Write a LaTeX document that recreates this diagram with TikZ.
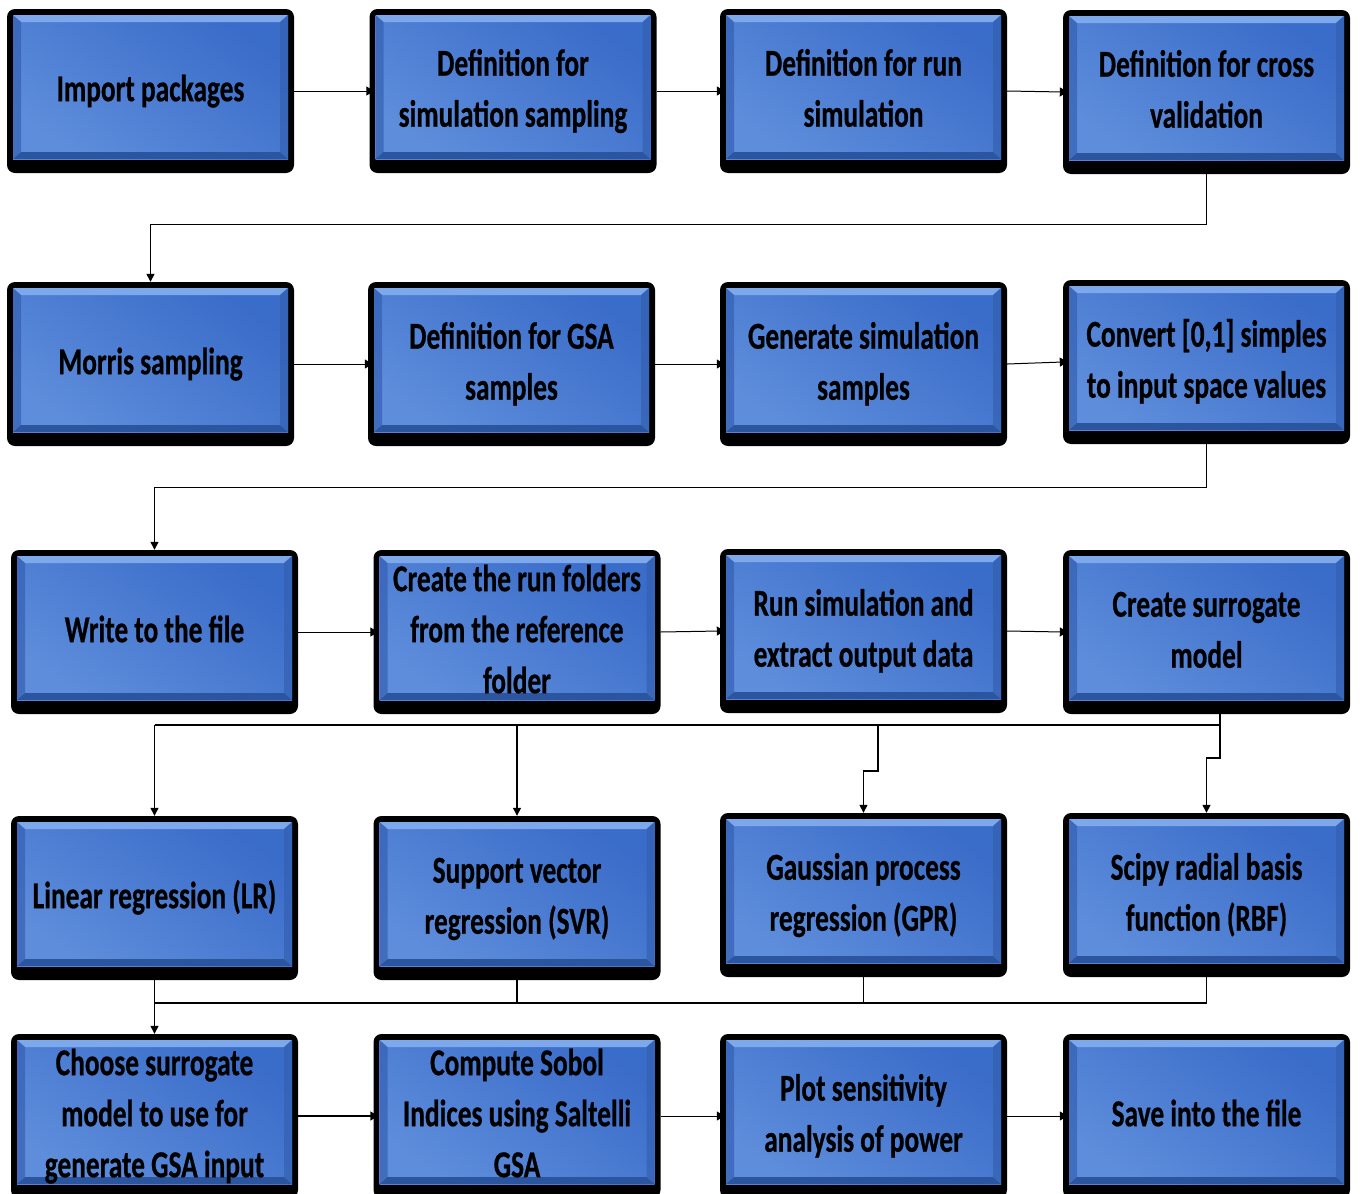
\documentclass[tikz,border=0pt]{standalone}
\usepackage{fontspec}
\newfontfamily\boxfont{Carlito}[FakeStretch=0.72,FakeBold=0.6]
\usetikzlibrary{arrows.meta,calc}
\definecolor{bluelite}{HTML}{5E8DDB}
\definecolor{bluedark}{HTML}{3A6CC9}
\definecolor{bevtop}{HTML}{7EA8EC}
\definecolor{bevbot}{HTML}{2C559F}
\definecolor{bevside}{HTML}{3460B2}
\newcommand\bx[1]{\raisebox{4pt}{\begin{tabular}{@{}c@{}}#1\end{tabular}}}
\tikzset{
  flowbox/.style={
    fill=black, rounded corners=8pt, minimum width=287pt, minimum height=164pt,
    inner sep=0pt, align=center, font=\boxfont\bfseries\fontsize{38}{51}\selectfont,
    path picture={
      \coordinate (SW) at ($(path picture bounding box.south west)+(6pt,14pt)$);
      \coordinate (NE) at ($(path picture bounding box.north east)+(-6pt,-6pt)$);
      \shade[sharp corners, top color=bluedark, bottom color=bluelite, shading angle=-35] (SW) rectangle (NE);
      \fill[sharp corners, bevtop] (SW|-NE) -- (NE) -- ($(NE)+(-8pt,-7pt)$) -- ($(SW|-NE)+(8pt,-7pt)$) -- cycle;
      \fill[sharp corners, bevbot] (SW) -- (SW-|NE) -- ($(SW-|NE)+(-8pt,7pt)$) -- ($(SW)+(8pt,7pt)$) -- cycle;
      \fill[sharp corners, bevside, opacity=0.7] (SW) -- ($(SW)+(8pt,7pt)$) -- ($(SW|-NE)+(8pt,-7pt)$) -- (SW|-NE) -- cycle;
      \fill[sharp corners, bevside, opacity=0.7] (SW-|NE) -- ($(SW-|NE)+(-8pt,7pt)$) -- ($(NE)+(-8pt,-7pt)$) -- (NE) -- cycle;
    }},
  conn/.style={draw=black, line width=1.3pt, -{Triangle[length=8pt,width=8pt]}},
  hconn/.style={draw=black, line width=1pt, -{Triangle[length=8pt,width=9pt]}, shorten >=-5pt},
  plain/.style={draw=black, line width=1.3pt}
}
\begin{document}
\begin{tikzpicture}[x=1pt,y=-1pt]
\useasboundingbox (0,0) rectangle (1360,1194);
% row 1
\node[flowbox] (a) at (150.5,91) {\bx{Import packages}};
\node[flowbox] (b) at (513,91) {\bx{Definition for\\simulation sampling}};
\node[flowbox] (c) at (863.5,91) {\bx{Definition for run\\simulation}};
\node[flowbox] (d) at (1206.5,92) {\bx{Definition for cross\\validation}};
% row 2
\node[flowbox] (e) at (150.5,364) {\bx{Morris sampling}};
\node[flowbox] (f) at (511.5,364) {\bx{Definition for GSA\\samples}};
\node[flowbox] (g) at (863.5,364) {\bx{Generate simulation\\samples}};
\node[flowbox] (h) at (1206.5,362) {\bx{Convert [0,1] simples\\to input space values}};
% row 3
\node[flowbox] (i) at (154.5,632) {\bx{Write to the file}};
\node[flowbox] (j) at (517,632) {\bx{Create the run folders\\from the reference\\folder}};
\node[flowbox] (k) at (863.5,631) {\bx{Run simulation and\\extract output data}};
\node[flowbox] (l) at (1206.5,632) {\bx{Create surrogate\\model}};
% row 4
\node[flowbox] (m) at (154.5,898) {\bx{Linear regression (LR)}};
\node[flowbox] (n) at (517,898) {\bx{Support vector\\regression (SVR)}};
\node[flowbox] (o) at (863.5,895) {\bx{Gaussian process\\regression (GPR)}};
\node[flowbox] (p) at (1206.5,895) {\bx{Scipy radial basis\\function (RBF)}};
% row 5
\node[flowbox] (q) at (154.5,1116) {\bx{Choose surrogate\\model to use for\\generate GSA input}};
\node[flowbox] (r) at (517,1116) {\bx{Compute Sobol\\Indices using Saltelli\\GSA}};
\node[flowbox] (s) at (863.5,1116) {\bx{Plot sensitivity\\analysis of power}};
\node[flowbox] (t) at (1206.5,1116) {\bx{Save into the file}};
% row 1 links
\draw[hconn] (a.east) -- (b.west);
\draw[hconn] (b.east) -- (c.west);
\draw[hconn] (c.east) -- (d.west);
\draw[conn] (d.south) -- ++(0,50) -| (e.north);
% row 2 links
\draw[hconn] (e.east) -- (f.west);
\draw[hconn] (f.east) -- (g.west);
\draw[hconn] (g.east) -- (h.west);
\draw[conn] (h.south) -- ++(0,43) -| (i.north);
% row 3 links
\draw[hconn] (i.east) -- (j.west);
\draw[hconn] (j.east) -- (k.west);
\draw[hconn] (k.east) -- (l.west);
% fan-out to row 4
\coordinate (b3) at (1220,725);
\coordinate (jo) at (878,771);
\coordinate (jp) at (1220,758);
\draw[plain] (l.south -| b3) -- (b3) -- (b3 -| m.north);
\draw[conn] (b3 -| m.north) -- (m.north);
\draw[conn] (b3 -| n.north) -- (n.north);
\draw[conn] (b3 -| jo) -- (jo) -| (o.north);
\draw[conn] (b3) -- (jp) -| (p.north);
% merge from row 4
\coordinate (b4) at (0,1003);
\draw[plain] (m.south) -- (m.south |- b4) -- (p.south |- b4) -- (p.south);
\draw[plain] (n.south) -- (n.south |- b4);
\draw[plain] (o.south) -- (o.south |- b4);
\draw[conn] (m.south |- b4) -- (q.north);
% row 5 links
\draw[hconn, line width=1.5pt] (q.east) -- (r.west);
\draw[hconn] (r.east) -- (s.west);
\draw[hconn] (s.east) -- (t.west);
\end{tikzpicture}
\end{document}
